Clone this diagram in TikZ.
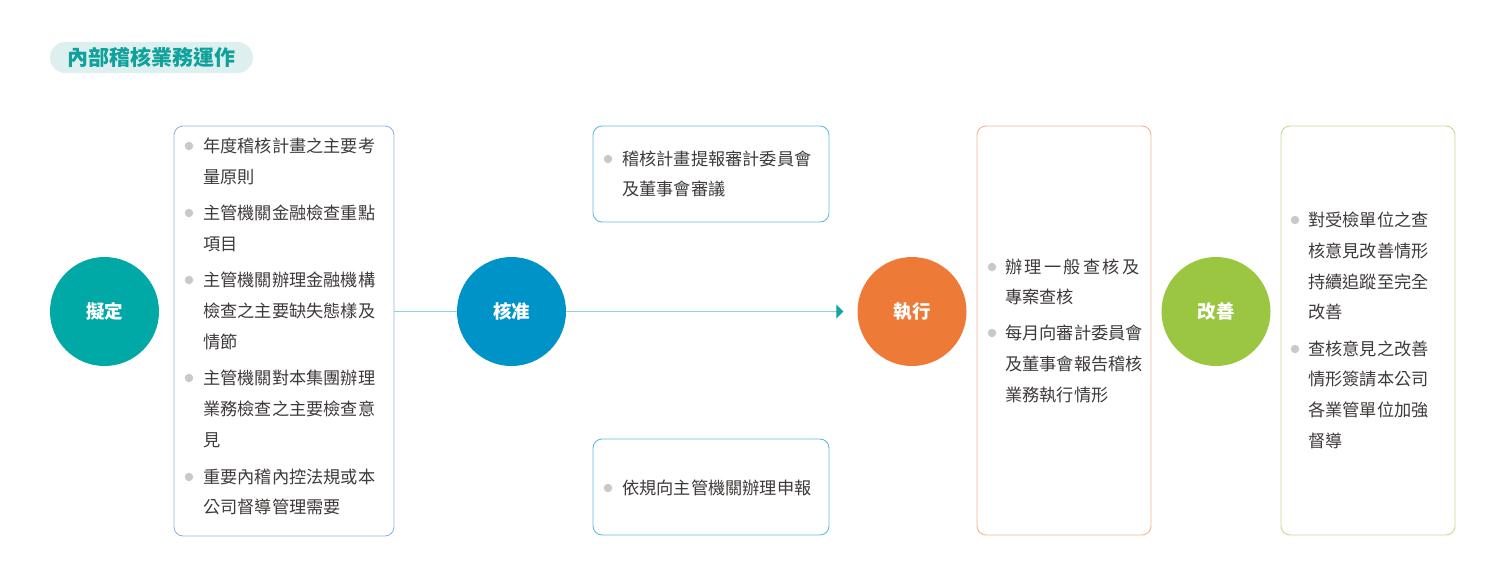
\documentclass[tikz,border=0pt]{standalone}
\usepackage{fontspec}
\usetikzlibrary{arrows.meta}
\newfontfamily\cjk{Noto Sans CJK TC}
\definecolor{cteal}{HTML}{00A9A5}
\definecolor{cblue}{HTML}{0093C8}
\definecolor{corange}{HTML}{ED7A37}
\definecolor{cgreen}{HTML}{9BC641}
\definecolor{pillbg}{HTML}{DDEFEE}
\definecolor{pilltext}{HTML}{11A19C}
\definecolor{connline}{HTML}{8ED3D2}
\definecolor{arrowteal}{HTML}{12A7A1}
\definecolor{textgray}{HTML}{3E3A39}
\definecolor{bulletgray}{HTML}{C9C9C9}
\definecolor{bdblue}{HTML}{8FB5E4}
\definecolor{bdsky}{HTML}{62BCE0}
\definecolor{bdorange}{HTML}{F4B291}
\definecolor{bdgreen}{HTML}{C0DC8C}
\tikzset{
  stage/.style={circle, minimum size=109pt, inner sep=0, text=white,
    font=\cjk\bfseries\fontsize{18.5}{20}\selectfont},
  infobox/.style={rectangle, rounded corners=9pt, line width=0.9pt, inner sep=0},
  txt/.style={anchor=west, inner sep=0, text=textgray,
    font=\cjk\fontsize{17.2}{20}\selectfont, text height=15.1pt, text depth=2.1pt},
  dot/.style={circle, fill=bulletgray, minimum size=8.5pt, inner sep=0},
  conn/.style={draw=connline, line width=1.1pt}
}
\begin{document}
\begin{tikzpicture}[x=1pt,y=-1pt]
\useasboundingbox (0,0) rectangle (1500,579);
% title pill
\node[fill=pillbg, rounded corners=15.5pt, minimum width=203pt, minimum height=31pt, inner sep=0,
  text=pilltext, font=\cjk\bfseries\fontsize{21}{23}\selectfont] (title) at (151.5,57.5) {內部稽核業務運作};
% stage circles
\node[stage, fill=cteal] (c1) at (104.5,311.5) {擬定};
\node[stage, fill=cblue] (c2) at (511.5,311.5) {核准};
\node[stage, fill=corange] (c3) at (912,311.5) {執行};
\node[stage, fill=cgreen] (c4) at (1216,311.5) {改善};
% boxes
\node[infobox, draw=bdblue, minimum width=220pt, minimum height=410pt] (b1) at (284,331) {};
\node[infobox, draw=bdsky, minimum width=236pt, minimum height=96pt] (b2) at (711,174) {};
\node[infobox, draw=bdsky, minimum width=236pt, minimum height=96pt] (b3) at (711,487) {};
\node[infobox, draw=bdorange, minimum width=174pt, minimum height=409pt] (b4) at (1064,330.5) {};
\node[infobox, draw=bdgreen, minimum width=174pt, minimum height=409pt] (b5) at (1368,330.5) {};
% connectors
\draw[conn] (b1.east |- c2) -- (c2.west);
\draw[conn, shorten >=14pt, -{Triangle[length=7pt,width=14pt,color=arrowteal]}] (c2.east) -- (c3.west);
% box 1 text
\foreach \y/\t [count=\i] in {146/年度稽核計畫之主要考,177/量原則,213/主管機關金融檢查重點,244/項目,280/主管機關辦理金融機構,311/檢查之主要缺失態樣及,342/情節,378/主管機關對本集團辦理,409/業務檢查之主要檢查意,440/見,477/重要內稽內控法規或本,507/公司督導管理需要}
  {\node[txt] (a\i) at (203,\y) {\t};}
\foreach \y [count=\i] in {146,213,280,378,477}
  {\node[dot] (ad\i) at (189,\y) {};}
% middle boxes
\node[txt] (m1) at (622,159) {稽核計畫提報審計委員會};
\node[txt] (m2) at (622,189) {及董事會審議};
\node[dot] (md1) at (608,159) {};
\node[txt] (m3) at (622,488) {依規向主管機關辦理申報};
\node[dot] (md2) at (608,488) {};
% box 4 text
\node[txt] (e1) at (1005,267) {\makebox[7.8em][s]{辦\hfill 理\hfill 一\hfill 般\hfill 查\hfill 核\hfill 及}};
\foreach \y/\t [count=\i] in {297/專案查核,333/每月向審計委員會,364/及董事會報告稽核,395/業務執行情形}
  {\node[txt] (e\i x) at (1005,\y) {\t};}
\node[dot] (ed1) at (992,267) {};
\node[dot] (ed2) at (992,333) {};
% box 5 text
\foreach \y/\t [count=\i] in {220/對受檢單位之查,251/核意見改善情形,282/持續追蹤至完全,312/改善,349/查核意見之改善,379/情形簽請本公司,410/各業管單位加強,441/督導}
  {\node[txt] (g\i) at (1308,\y) {\t};}
\node[dot] (gd1) at (1295,220) {};
\node[dot] (gd2) at (1295,349) {};
\end{tikzpicture}
\end{document}
